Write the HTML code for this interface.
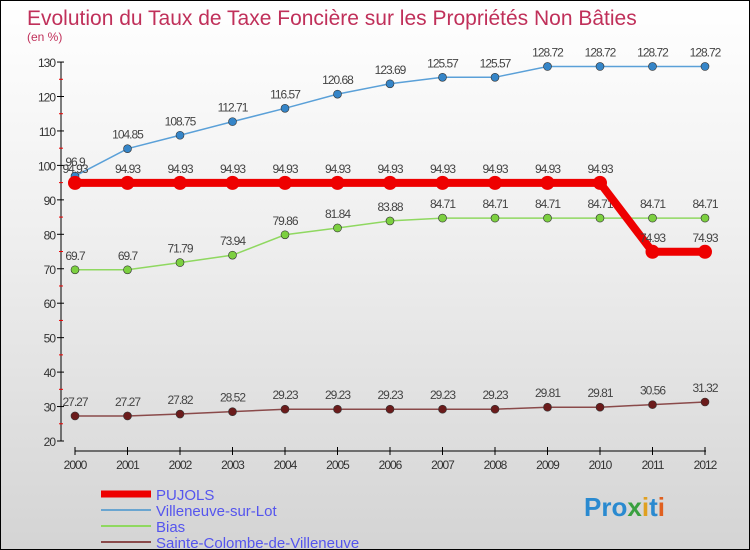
<!DOCTYPE html>
<html><head><meta charset="utf-8"><style>
body{margin:0}
#c{width:748px;height:548px;border:1px solid #000;background:linear-gradient(#fff,#f0f0f0 40%,#d4d4d4);position:relative;overflow:hidden;font-family:"Liberation Sans",sans-serif}
</style></head><body>
<div id="c">
<svg id="s" width="748" height="548" xmlns="http://www.w3.org/2000/svg">
<text x="26" y="24" font-size="21" fill="#c0305a">Evolution du Taux de Taxe Foncière sur les Propriétés Non Bâties</text>
<text x="26" y="40" font-size="12" fill="#c0305a">(en %)</text>
<g id="g"></g>
</svg>
</div>
<script>
const years=[2000,2001,2002,2003,2004,2005,2006,2007,2008,2009,2010,2011,2012];
const pujols=[94.93,94.93,94.93,94.93,94.93,94.93,94.93,94.93,94.93,94.93,94.93,74.93,74.93];
const villeneuve=[96.9,104.85,108.75,112.71,116.57,120.68,123.69,125.57,125.57,128.72,128.72,128.72,128.72];
const bias=[69.7,69.7,71.79,73.94,79.86,81.84,83.88,84.71,84.71,84.71,84.71,84.71,84.71];
const sainte=[27.27,27.27,27.82,28.52,29.23,29.23,29.23,29.23,29.23,29.81,29.81,30.56,31.32];
const yTicks=[20,30,40,50,60,70,80,90,100,110,120,130];
const seriesNames=['PUJOLS','Villeneuve-sur-Lot','Bias','Sainte-Colombe-de-Villeneuve'];
const NS='http://www.w3.org/2000/svg';
const g=document.getElementById('g');
const X=i=>74+i*52.5;
const Y=v=>440-(v-20)*3.445;
function mk(t,a,p){const e=document.createElementNS(NS,t);for(const k in a)e.setAttribute(k,a[k]);(p||g).appendChild(e);return e;}
// axes
let ax=mk('line',{x1:60,y1:Y(130),x2:60,y2:440,stroke:'#000'});


let xa=mk('line',{x1:74,y1:450,x2:705,y2:450,stroke:'#000'});


yTicks.forEach(v=>{
 mk('line',{x1:56,y1:Y(v),x2:63,y2:Y(v),stroke:'#000'});
 if(v<130)mk('line',{x1:58,y1:Y(v+5),x2:62,y2:Y(v+5),stroke:'#e00'});
 const t=mk('text',{x:54,y:Y(v)+5,'font-size':12,'text-anchor':'end',fill:'#333','letter-spacing':'-1'});
 t.textContent=v;
 
 
});
years.forEach((y,i)=>{
 mk('line',{x1:X(i),y1:446,x2:X(i),y2:454,stroke:'#000'});
 const t=mk('text',{x:X(i),y:468,'font-size':12,'text-anchor':'middle',fill:'#333','letter-spacing':'-1'});
 t.textContent=y;
 
 
});
function series(vals,color,w,r,dot,name){
 const pl=mk('polyline',{points:vals.map((v,i)=>X(i)+','+Y(v)).join(' '),fill:'none',stroke:color,'stroke-width':w});
 
 
 vals.forEach((v,i)=>{
  const c=mk('circle',{cx:X(i),cy:Y(v),r:r,fill:dot,stroke:'#333','stroke-width':r>5?0:0.6});
  
  
  const t=mk('text',{x:X(i),y:Y(v)-10,'font-size':12,'text-anchor':'middle',fill:'#444','letter-spacing':'-1'});
  t.textContent=String(v).replace('.','.');
  
  
 });
}
series(sainte,'#8a4a4a',1.5,4,'#6b1b1b','sainte-colombe');
series(bias,'#8fd860',1.5,4,'#7cd040','bias');
series(villeneuve,'#5aa0d8',1.5,4,'#3585c8','villeneuve');
series(pujols,'#ee0000',8,7,'#ee0000','pujols');
// legend
const lc=['#ee0000','#6aa5d0','#8fd860','#8a4a4a'],lw=[7,2,2,2];
seriesNames.forEach((n,i)=>{
 const y=493+i*16;
 const l=mk('line',{x1:100,y1:y,x2:150,y2:y,stroke:lc[i],'stroke-width':lw[i]});
 
 
 const t=mk('text',{x:155,y:y+6,'font-size':15,fill:'#5555ee'});
 t.textContent=n;
 
 
});
// logo
const lg=mk('text',{x:583,y:515,'font-size':26,'font-weight':'bold',fill:'#e08a20'});


['P','r','o','x','i','t','i'].forEach((ch,i)=>{const ts=mk('tspan',{fill:['#2a8ad0','#2a8ad0','#2a8ad0','#3aa040','#e0a020','#2a8ad0','#e06020'][i]},lg);ts.textContent=ch;});
</script>
</body></html>
